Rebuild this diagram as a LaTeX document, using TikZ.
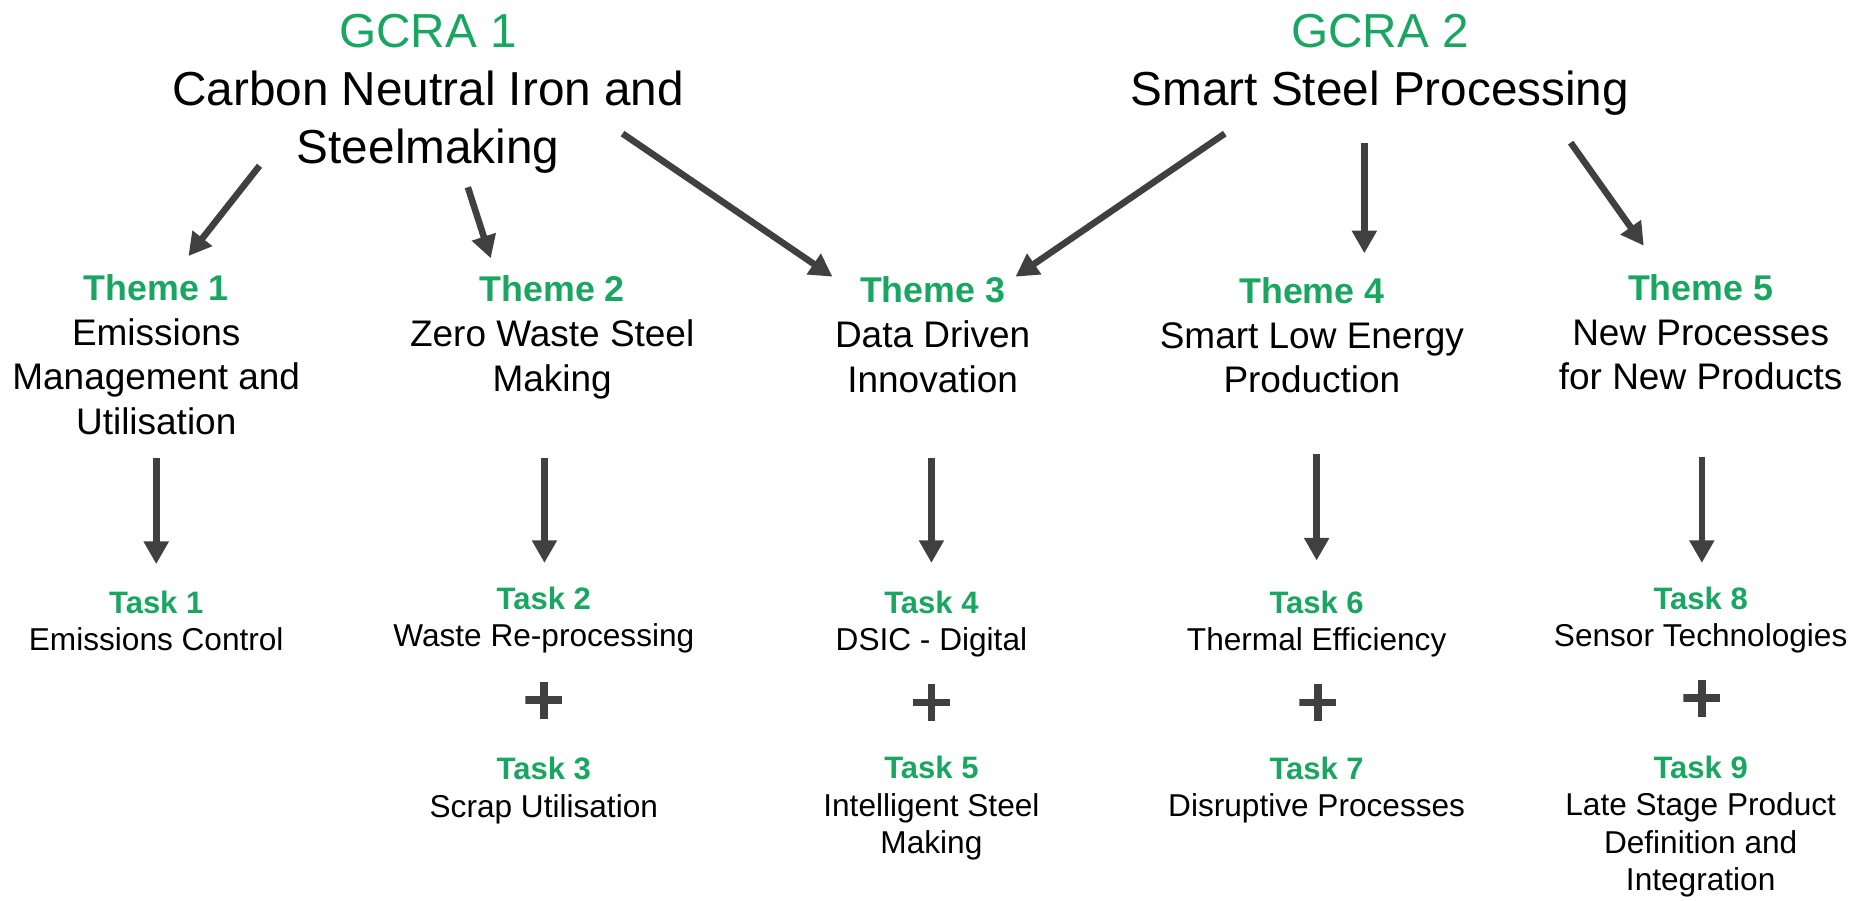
\documentclass[tikz,border=0pt]{standalone}
\usepackage{fontspec}
\setmainfont{Liberation Sans}
\usetikzlibrary{arrows.meta}
\definecolor{grn}{HTML}{18A660}
\definecolor{agrey}{HTML}{404040}
\newcommand\ctrstack[1]{\vtop{\halign{\hfil##\hfil\cr #1\crcr}}}
\newcommand\themelbl[1]{{\fontsize{30}{37.5}\selectfont\bfseries\color{grn}#1}}
\newcommand\tasklbl[1]{{\fontsize{26}{31.5}\selectfont\bfseries\color{grn}#1}}
\begin{document}
\begin{tikzpicture}[x=1pt,y=-1pt,
  lbl/.style={anchor=base,inner sep=0pt,outer sep=0pt},
  title/.style={lbl,font=\fontsize{40}{48.5}\selectfont},
  theme/.style={lbl,font=\fontsize{31}{37.5}\selectfont},
  task/.style={lbl,font=\fontsize{26.5}{31.5}\selectfont},
  arr/.style={draw=agrey,line width=5.5pt,-{Triangle[width=20pt,length=19pt]}},
  plussign/.style={minimum size=31pt,inner sep=0pt,path picture={
    \fill[agrey] ([xshift=-15.5pt,yshift=-3.25pt]path picture bounding box.center) rectangle ++(31pt,6.5pt);
    \fill[agrey] ([xshift=-3.25pt,yshift=-15.5pt]path picture bounding box.center) rectangle ++(6.5pt,31pt);}}
]
\useasboundingbox (0,0) rectangle (1568,755);

% GCRA titles
\node[title] (g1) at (359,40) {\ctrstack{\color{grn}GCRA 1\cr Carbon Neutral Iron and\cr Steelmaking}};
\node[title] (g2) at (1157,40) {\ctrstack{\color{grn}GCRA 2\cr Smart Steel Processing}};

% Themes
\node[theme] (t1) at (131,252) {\ctrstack{\themelbl{Theme 1}\cr Emissions\cr Management and\cr Utilisation}};
\node[theme] (t2) at (463,253) {\ctrstack{\themelbl{Theme 2}\cr Zero Waste Steel\cr Making}};
\node[theme] (t3) at (782,254) {\ctrstack{\themelbl{Theme 3}\cr Data Driven\cr Innovation}};
\node[theme] (t4) at (1100,254.5) {\ctrstack{\themelbl{Theme 4}\cr Smart Low Energy\cr Production}};
\node[theme] (t5) at (1426,252) {\ctrstack{\themelbl{Theme 5}\cr New Processes\cr for New Products}};

% Tasks
\node[task] (k1) at (131,514) {\ctrstack{\tasklbl{Task 1}\cr Emissions Control}};
\node[task] (k2) at (456,511) {\ctrstack{\tasklbl{Task 2}\cr Waste Re-processing}};
\node[task] (k3) at (456,654) {\ctrstack{\tasklbl{Task 3}\cr Scrap Utilisation}};
\node[task] (k4) at (781,514) {\ctrstack{\tasklbl{Task 4}\cr DSIC - Digital}};
\node[task] (k5) at (781,653) {\ctrstack{\tasklbl{Task 5}\cr Intelligent Steel\cr Making}};
\node[task] (k6) at (1104,514) {\ctrstack{\tasklbl{Task 6}\cr Thermal Efficiency}};
\node[task] (k7) at (1104,653.5) {\ctrstack{\tasklbl{Task 7}\cr Disruptive Processes}};
\node[task] (k8) at (1426,511) {\ctrstack{\tasklbl{Task 8}\cr Sensor Technologies}};
\node[task] (k9) at (1426,652.5) {\ctrstack{\tasklbl{Task 9}\cr Late Stage Product\cr Definition and\cr Integration}};

% Plus signs
\node[plussign] (p2) at (456,587) {};
\node[plussign] (p3) at (781,589) {};
\node[plussign] (p4) at (1105,589) {};
\node[plussign] (p5) at (1427,585.5) {};

% Arrow end points
\coordinate (a1s) at (217.6,139);   \coordinate (a1e) at (158,214.7);
\coordinate (a2s) at (392.3,157);   \coordinate (a2e) at (411.5,216.6);
\coordinate (a3s) at (522,112);     \coordinate (a3e) at (698,232);
\coordinate (a4s) at (1027,112);    \coordinate (a4e) at (851.5,232);
\coordinate (a5s) at (1144,120);    \coordinate (a5e) at (1144,212.4);
\coordinate (a6s) at (1317,119.6);  \coordinate (a6e) at (1378.3,206);
\coordinate (v1s) at (131,384);     \coordinate (v1e) at (131,473);
\coordinate (v2s) at (456.5,384);   \coordinate (v2e) at (456.5,472);
\coordinate (v3s) at (781,384);     \coordinate (v3e) at (781,472);
\coordinate (v4s) at (1104,381);    \coordinate (v4e) at (1104,470);
\coordinate (v5s) at (1427,383.5);  \coordinate (v5e) at (1427,472);

\draw[arr] (a1s) -- (a1e);
\draw[arr] (a2s) -- (a2e);
\draw[arr] (a3s) -- (a3e);
\draw[arr] (a4s) -- (a4e);
\draw[arr] (a5s) -- (a5e);
\draw[arr] (a6s) -- (a6e);
\draw[arr] (v1s) -- (v1e);
\draw[arr] (v2s) -- (v2e);
\draw[arr] (v3s) -- (v3e);
\draw[arr] (v4s) -- (v4e);
\draw[arr] (v5s) -- (v5e);
\end{tikzpicture}
\end{document}
